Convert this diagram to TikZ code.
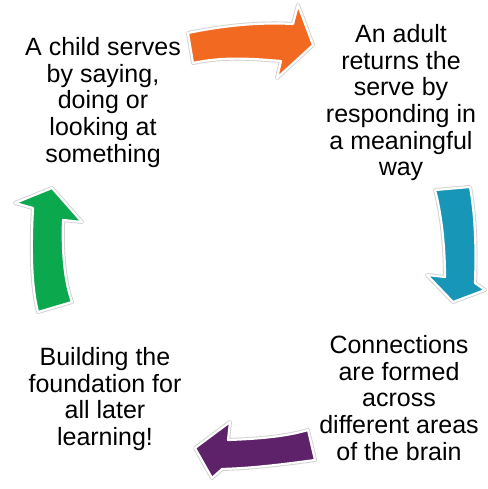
\documentclass[tikz,border=0pt]{standalone}
\usepackage{fontspec}
\setmainfont{Liberation Sans}
\definecolor{arrOrange}{RGB}{242,106,34}
\definecolor{arrTeal}{RGB}{24,150,184}
\definecolor{arrPurple}{RGB}{94,34,106}
\definecolor{arrGreen}{RGB}{12,168,78}
\tikzset{
  stepText/.style={align=center,inner sep=0pt,anchor=north,font=\fontsize{25}{26.7}\selectfont,text=black},
  arrShadow/.style={draw=black!18,line width=4pt,line join=round},
  arrBody/.style={fill=#1,draw=white,line width=2.2pt,line join=round}
}
\begin{document}
\begin{tikzpicture}[x=1pt,y=-1pt]
\useasboundingbox (0,0) rectangle (487,489);
\fill[white] (0,0) rectangle (487,489);
% texts
\node[stepText] (t1) at (103,37) {A child serves\\by saying,\\doing or\\looking at\\something};
\node[stepText] (t2) at (401,24) {An adult\\returns the\\serve by\\responding in\\a meaningful\\way};
\node[stepText] (t3) at (399,335) {Connections\\are formed\\across\\different areas\\of the brain};
\node[stepText] (t4) at (105,347) {Building the\\foundation for\\all later\\learning!};
% orange arrow
\def\orangePath{(188,33) .. controls (222,26) and (258,22) .. (293,24) -- (298,5) -- (313,45) -- (277,78) -- (281,61) .. controls (255,59) and (225,56) .. (193,63) -- cycle}
\path[arrShadow] \orangePath;
\path[arrBody=arrOrange] \orangePath;
% teal arrow
\def\tealPath{(435,190) -- (470,187) .. controls (476,220) and (476,255) .. (475,283) -- (485,290) -- (453,302) -- (427,275) -- (445,277) .. controls (445,250) and (442,215) .. (435,190) -- cycle}
\path[arrShadow] \tealPath;
\path[arrBody=arrTeal] \tealPath;
% purple arrow
\def\purplePath{(308,430) -- (315,460) .. controls (285,464) and (255,468) .. (222,469) -- (212,478) -- (195,448) -- (230,422) -- (228,440) .. controls (255,439) and (285,437) .. (308,430) -- cycle}
\path[arrShadow] \purplePath;
\path[arrBody=arrPurple] \purplePath;
% green arrow
\def\greenPath{(38,312) .. controls (31,285) and (31,245) .. (33,208) -- (15,203) -- (52,188) -- (82,222) -- (63,220) .. controls (62,250) and (64,280) .. (72,302) -- cycle}
\path[arrShadow] \greenPath;
\path[arrBody=arrGreen] \greenPath;
\end{tikzpicture}
\end{document}
